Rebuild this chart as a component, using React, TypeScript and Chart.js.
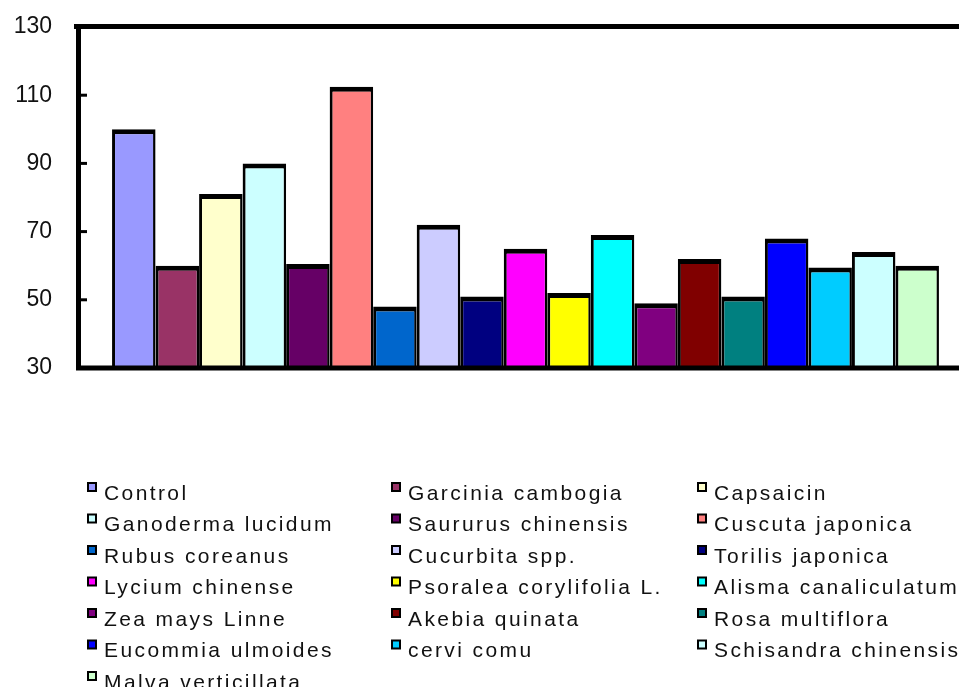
import React, { useEffect, useRef } from "react";
import { Chart, registerables } from "chart.js";

Chart.register(...registerables);

// Treatment groups, in the order the bars are drawn
const treatments = [
  "Control",
  "Garcinia cambogia",
  "Capsaicin",
  "Ganoderma lucidum",
  "Saururus chinensis",
  "Cuscuta japonica",
  "Rubus coreanus",
  "Cucurbita spp.",
  "Torilis japonica",
  "Lycium chinense",
  "Psoralea corylifolia L.",
  "Alisma canaliculatum",
  "Zea mays Linne",
  "Akebia quinata",
  "Rosa multiflora",
  "Eucommia ulmoides",
  "cervi cornu",
  "Schisandra chinensis",
  "Malva verticillata",
];

// Relative values (Control = 100)
const values = [100, 60, 81, 90, 60.5, 112.5, 48, 72, 51, 65, 52, 69, 49, 62, 51, 68, 59.5, 64, 60];

const barColors = [
  "#9999FF", "#993366", "#FFFFCC", "#CCFFFF", "#660066", "#FF8080",
  "#0066CC", "#CCCCFF", "#000080", "#FF00FF", "#FFFF00", "#00FFFF",
  "#800080", "#800000", "#008080", "#0000FF", "#00CCFF", "#CCFFFF", "#CCFFCC",
];

// Legend labels as printed under the chart
const legendLabels = [
  "Control", "Garcinia cambogia", "Capsaicin",
  "Ganoderma lucidum", "Saururus chinensis", "Cuscuta japonica",
  "Rubus coreanus", "Cucurbita spp.", "Torilis japonica",
  "Lycium chinense", "Psoralea corylifolia L.", "Alisma canaliculatum",
  "Zea mays Linne", "Akebia quinata", "Rosa multiflora",
  "Eucommia ulmoides", "cervi comu", "Schisandra chinensis",
  "Malva verticillata",
];

const yMin = 30;
const yMax = 130;
const yStep = 20;

// Thick frame: top, left and baseline, plus short inward ticks
const framePlugin = {
  id: "frame",
  afterDatasetsDraw(chart: any) {
    const { ctx, chartArea } = chart;
    const yScale = chart.scales.y;
    ctx.save();
    ctx.strokeStyle = "#000";
    ctx.lineCap = "butt";
    ctx.lineWidth = 5;
    // top border
    ctx.beginPath();
    ctx.moveTo(chartArea.left - 5, chartArea.top - 0.5);
    ctx.lineTo(chartArea.right + 40, chartArea.top - 0.5);
    ctx.stroke();
    // left axis
    ctx.beginPath();
    ctx.moveTo(chartArea.left - 0.5, chartArea.top - 3);
    ctx.lineTo(chartArea.left - 0.5, chartArea.bottom + 2);
    ctx.stroke();
    // baseline
    ctx.beginPath();
    ctx.moveTo(chartArea.left - 3, chartArea.bottom);
    ctx.lineTo(chartArea.right + 40, chartArea.bottom);
    ctx.stroke();
    // inward ticks
    ctx.lineWidth = 3;
    for (let v = yMin + yStep; v < yMax; v += yStep) {
      const py = yScale.getPixelForValue(v);
      ctx.beginPath();
      ctx.moveTo(chartArea.left, py);
      ctx.lineTo(chartArea.left + 8, py);
      ctx.stroke();
    }
    ctx.restore();
  },
};

// Three-column legend below the plot
const legendPlugin = {
  id: "gridLegend",
  afterDraw(chart: any) {
    const { ctx } = chart;
    const colX = [87, 391, 697];
    const rowY0 = 494;
    const rowGap = 31.5;
    ctx.save();
    ctx.font = "21px 'Liberation Sans', Arial, sans-serif";
    (ctx as any).letterSpacing = "2.4px";
    ctx.textBaseline = "middle";
    chart.data.datasets.forEach((ds: any, i: number) => {
      const row = Math.floor(i / 3);
      const col = i % 3;
      const x = colX[col];
      const y = rowY0 + row * rowGap;
      // marker
      ctx.fillStyle = "#000";
      ctx.fillRect(x, y - 12, 10, 10);
      ctx.fillStyle = ds.backgroundColor;
      ctx.fillRect(x + 2, y - 10, 6, 6);
      // label
      ctx.fillStyle = "#111";
      ctx.fillText(legendLabels[i], x + 17, y);
    });
    ctx.restore();
  },
};

export default function App() {
  const canvasRef = useRef<HTMLCanvasElement | null>(null);

  useEffect(() => {
    const canvas = canvasRef.current;
    if (!canvas) return;
    const chart = new Chart(canvas, {
      type: "bar",
      data: {
        labels: [""],
        datasets: treatments.map((name, i) => ({
          label: name,
          data: [values[i]],
          backgroundColor: barColors[i],
          borderColor: "#000",
          borderWidth: { top: 5, left: 3, right: 2.5, bottom: 0 },
          borderSkipped: false,
          categoryPercentage: 0.926,
          barPercentage: 1,
        })),
      },
      options: {
        responsive: false,
        animation: false,
        events: [],
        layout: { padding: { left: 0, top: 27, right: 28, bottom: 319 } },
        plugins: {
          legend: { display: false },
          tooltip: { enabled: false },
        },
        scales: {
          x: { display: false },
          y: {
            min: yMin,
            max: yMax,
            ticks: {
              stepSize: yStep,
              color: "#111",
              padding: 27,
              font: { family: "'Liberation Sans', Arial, sans-serif", size: 23 },
            },
            grid: { display: false, drawTicks: false },
            border: { display: false },
            afterFit(scale: any) {
              scale.width = 79;
              scale.paddingTop = 0;
              scale.paddingBottom = 0;
            },
          },
        },
      },
      plugins: [framePlugin, legendPlugin],
    });
    return () => chart.destroy();
  }, []);

  return (
    <div
      style={{
        position: "fixed",
        left: 0,
        top: 0,
        width: 959,
        height: 687,
        overflow: "hidden",
        background: "#fff",
      }}
    >
      <canvas ref={canvasRef} width={1000} height={687} style={{ display: "block" }} />
    </div>
  );
}
